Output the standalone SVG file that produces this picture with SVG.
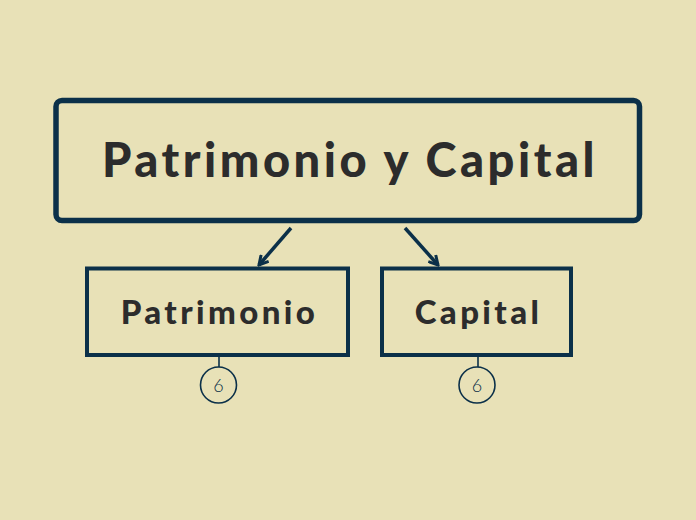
<svg xmlns="http://www.w3.org/2000/svg" width="696" height="520" viewBox="0 0 696 520">
<style>
.bg{fill:#e8e1b7}
.box{fill:none;stroke:#0b3049}
.t{font-family:"Lato","Liberation Sans",sans-serif;font-weight:900;fill:#2c2c2c;text-anchor:middle}
.c{fill:none;stroke:#0b3049;stroke-width:1.6}
.n{font-family:"Lato","Liberation Sans",sans-serif;font-weight:300;font-size:18px;fill:#0b3049;text-anchor:middle}
.con{stroke:#0b3049;stroke-width:3.5;fill:none}
</style>
<defs>
<marker id="ah" viewBox="0 0 12 12" refX="10" refY="6" markerWidth="12" markerHeight="12" markerUnits="userSpaceOnUse" orient="auto">
<path d="M1,1 L10,6 L1,11" fill="none" stroke="#0b3049" stroke-width="3"/>
</marker>
</defs>
<rect class="bg" x="0" y="0" width="696" height="520"/>
<g id="connectors">
<line class="con" x1="291" y1="228" x2="259" y2="265" marker-end="url(#ah)"/>
<line class="con" x1="405" y1="228" x2="438" y2="265" marker-end="url(#ah)"/>
<line class="c" x1="219" y1="357" x2="219" y2="367"/>
<line class="c" x1="478" y1="357" x2="478" y2="367"/>
</g>
<g id="main">
<rect class="box" x="56" y="100.5" width="583.5" height="120" rx="6" stroke-width="5.5"/>
<text class="t" x="350" y="177" font-size="47" letter-spacing="3.5">Patrimonio y Capital</text>
</g>
<g id="patrimonio">
<rect class="box" x="87" y="268.5" width="261" height="86.5" stroke-width="4"/>
<text class="t" x="219.5" y="324" font-size="33" letter-spacing="3.4">Patrimonio</text>
</g>
<g id="capital">
<rect class="box" x="382" y="268.5" width="189" height="86.5" stroke-width="4"/>
<text class="t" x="478.5" y="324" font-size="33" letter-spacing="3.4">Capital</text>
</g>
<g id="badge1">
<circle class="c" cx="218.5" cy="385" r="18"/>
<text class="n" x="218.5" y="392">6</text>
</g>
<g id="badge2">
<circle class="c" cx="477" cy="385" r="18"/>
<text class="n" x="477" y="392">6</text>
</g>
</svg>
